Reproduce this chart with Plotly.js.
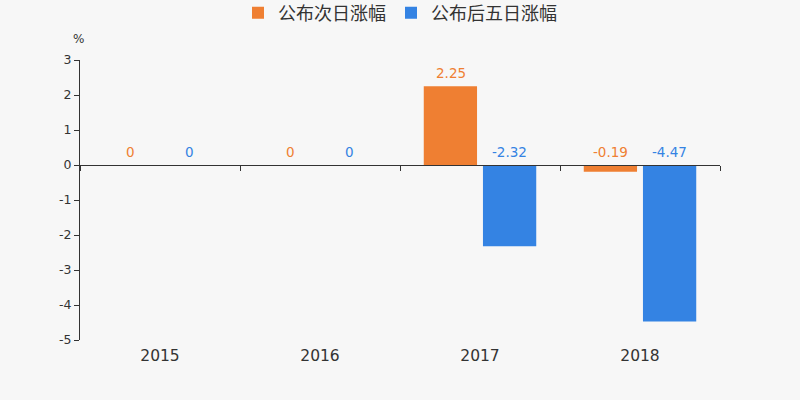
<!DOCTYPE html>
<html>
<head>
<meta charset="utf-8">
<script src="https://cdn.plot.ly/plotly-3.0.1.min.js"></script>
<style>
  html, body { margin: 0; padding: 0; background: #f7f7f7; }
  #chart { width: 800px; height: 400px; }
</style>
</head>
<body>
<div id="chart"></div>
<script>
// values
const years = ['2015', '2016', '2017', '2018'];
const nextDay = [0, 0, 2.25, -0.19];
const fiveDay = [0, 0, -2.32, -4.47];
const seriesNames = ['公布次日涨幅', '公布后五日涨幅'];
const yTicks = [-5, -4, -3, -2, -1, 0, 1, 2, 3];
const yTickText = ['-5', '-4', '-3', '-2', '-1', '0', '1', '2', '3'];

const orange = '#ef7f32';
const blue = '#3483e3';
const fontFam = 'DejaVu Sans, Noto Sans CJK SC, sans-serif';

const data = [
  { x: years, y: nextDay, type: 'bar', name: seriesNames[0],
    marker: {color: orange}, hoverinfo: 'none' },
  { x: years, y: fiveDay, type: 'bar', name: seriesNames[1],
    marker: {color: blue}, hoverinfo: 'none' },
  // empty trace so the zero-line axis with boundary ticks gets drawn
  { x: years, y: [null, null, null, null], type: 'scatter', mode: 'markers',
    xaxis: 'x2', showlegend: false, hoverinfo: 'none' }
];

// value labels sit above the bar, or above the zero line for negatives
const annotations = [];
const shift = 29.5;
for (let i = 0; i < years.length; i++) {
  [[nextDay, orange, -shift], [fiveDay, blue, shift]].forEach(function (s) {
    const v = s[0][i];
    annotations.push({
      x: i, y: Math.max(v, 0), xref: 'x', yref: 'y',
      text: String(v), showarrow: false, xshift: s[2], yshift: 3,
      yanchor: 'bottom', font: {color: s[1], size: 13.5, family: fontFam}
    });
  });
}
annotations.push({
  x: 0, y: 1, xref: 'paper', yref: 'paper', text: '%', showarrow: false,
  xanchor: 'right', yanchor: 'bottom', xshift: 6, yshift: 12,
  font: {color: '#333', size: 12, family: fontFam}
});

const layout = {
  width: 800, height: 400,
  paper_bgcolor: '#f7f7f7', plot_bgcolor: '#f7f7f7',
  font: {family: fontFam, color: '#333'},
  margin: {l: 80, r: 80, t: 60, b: 60},
  barmode: 'group', bargap: 0.26, bargroupgap: 0.1,
  showlegend: true,
  legend: {orientation: 'h', x: 0.5, xanchor: 'center', y: 0.9675, yref: 'container',
    yanchor: 'middle', font: {size: 18, color: '#333'}, bgcolor: 'rgba(0,0,0,0)',
    itemwidth: 30},
  xaxis: {type: 'category', range: [-0.5, 3.5], showline: false, ticks: '',
    showgrid: false, zeroline: false, tickfont: {size: 15.5, color: '#333'},
    ticklabelstandoff: 4},
  xaxis2: {type: 'category', overlaying: 'x', anchor: 'free', position: 0.625,
    range: [-0.5, 3.5], showline: true, linecolor: '#333', linewidth: 1,
    ticks: 'outside', tickson: 'boundaries', ticklen: 5, tickcolor: '#333',
    showticklabels: false, showgrid: false, zeroline: false},
  yaxis: {range: [-5, 3], tickvals: yTicks, ticktext: yTickText,
    showline: true, linecolor: '#333', ticks: 'outside', ticklen: 5,
    tickcolor: '#333', showgrid: false, zeroline: false,
    tickfont: {size: 12.5, color: '#333'}},
  annotations: annotations
};

Plotly.newPlot('chart', data, layout, {displayModeBar: false, staticPlot: true});
</script>
</body>
</html>
